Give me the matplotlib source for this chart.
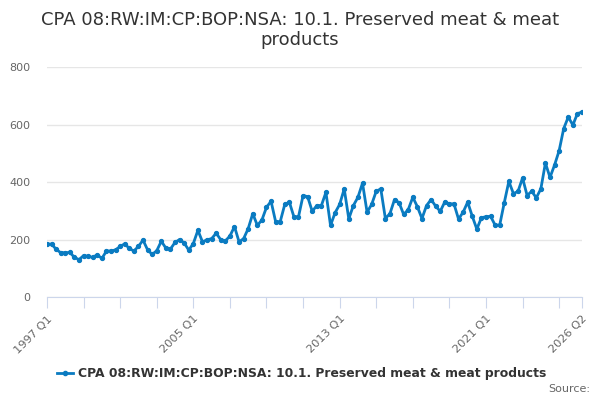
import numpy as np
import matplotlib
matplotlib.use("Agg")
import matplotlib.pyplot as plt

# quarterly values, 1997 Q1 .. 2026 Q2
values = [
    184, 184, 166, 154, 154, 155, 138, 130, 144, 141,
    138, 147, 134, 160, 160, 164, 176, 185, 169, 160,
    176, 198, 164, 148, 161, 194, 170, 167, 190, 200,
    188, 163, 186, 232, 192, 199, 203, 222, 199, 195,
    212, 245, 192, 203, 238, 290, 249, 268, 312, 333,
    262, 262, 322, 330, 279, 279, 353, 349, 298, 318,
    318, 364, 249, 293, 322, 376, 272, 318, 347, 396,
    295, 322, 368, 376, 273, 290, 339, 328, 287, 304,
    347, 314, 273, 318, 339, 316, 298, 331, 324, 324,
    271, 295, 330, 281, 236, 276, 279, 281, 250, 250,
    328, 402, 360, 367, 414, 353, 368, 345, 376, 466,
    416, 459, 509, 586, 626, 598, 638, 643,
]
start_year = 1997
series_name = "CPA 08:RW:IM:CP:BOP:NSA: 10.1. Preserved meat & meat products"
title = "CPA 08:RW:IM:CP:BOP:NSA: 10.1. Preserved meat & meat\nproducts"
label_quarters = ["1997 Q1", "2005 Q1", "2013 Q1", "2021 Q1", "2026 Q2"]

n = len(values)
labels = [f"{start_year + i // 4} Q{i % 4 + 1}" for i in range(n)]
x = np.arange(n)

fig = plt.figure(figsize=(6, 4), dpi=100)
ax = fig.add_axes([47 / 600, 1 - 297 / 400, (582 - 47) / 600, (297 - 67) / 400])

line_col = "#0a7bc1"
ax.plot(x, values, color=line_col, lw=2, marker="o", ms=2.8, zorder=3)

ax.set_xlim(0, n - 1)
ax.set_ylim(0, 800)
ax.set_yticks([0, 200, 400, 600, 800])
ax.grid(axis="y", color="#e6e6e6", lw=1)
ax.set_axisbelow(True)
ax.tick_params(axis="y", length=0, labelsize=8, labelcolor="#666666", pad=12)

# tick marks every two years, labels only on a few
tick_pos = list(range(0, n, 8)) + [n - 1]
ax.set_xticks(tick_pos)
ax.set_xticklabels([labels[p] if labels[p] in label_quarters else "" for p in tick_pos],
                   rotation=45, ha="right", rotation_mode="anchor")
ax.tick_params(axis="x", length=8, color="#ccd6eb", labelsize=8.2, labelcolor="#666666", pad=4)

for s in ["top", "right", "left"]:
    ax.spines[s].set_visible(False)
ax.spines["bottom"].set_color("#ccd6eb")

fig.text(0.5, 1 - 30 / 400, title, ha="center", va="center", fontsize=13,
         color="#333333", linespacing=1.15)

# legend
fig.lines.append(plt.Line2D([57 / 600, 73 / 600], [1 - 373 / 400] * 2, color=line_col,
                            lw=2, transform=fig.transFigure))
fig.lines.append(plt.Line2D([65 / 600], [1 - 373 / 400], color=line_col, marker="o", ms=3,
                            transform=fig.transFigure))
fig.text(78 / 600, 1 - 373 / 400, series_name, ha="left", va="center", fontsize=8.9,
         fontweight="bold", color="#333333")
fig.text(590 / 600, 1 - 389 / 400, "Source:", ha="right", va="center", fontsize=8,
         color="#666666")

fig.savefig("out.png", dpi=100)
